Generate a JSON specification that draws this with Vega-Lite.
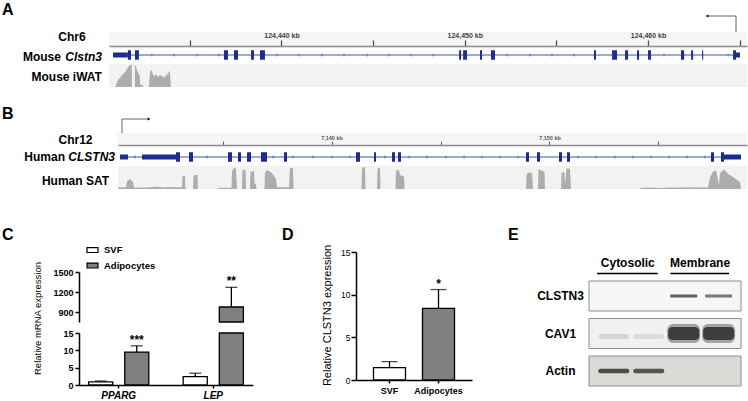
{
"$schema": "https://vega.github.io/schema/vega-lite/v6.json",
"padding": 0,
"autosize": {"type": "pad"},
"background": "white",
"config": {
  "view": {"stroke": null},
  "font": "Liberation Sans",
  "axis": {"domainColor": "black", "tickColor": "black", "domainWidth": 1.5, "tickWidth": 1.5, "tickSize": 4, "labelColor": "black", "titleColor": "black", "grid": false, "labelFontSize": 9, "labelFontWeight": "bold", "labelPadding": 2, "titleFontWeight": "normal"}
},
"datasets": {
  "genes": [
    {"species": "mouse", "start": 124430.81, "end": 124465.02, "tss": 124464.80, "arrowTip": 124463.22},
    {"species": "human", "start": 7130.298, "end": 7158.784, "tss": 7130.390, "arrowTip": 7131.628}
  ],
  "mouseExons": [
    {"start": 124430.81, "end": 124431.62, "feature": "UTR"},
    {"start": 124431.62, "end": 124431.79, "feature": "CDS"},
    {"start": 124432.01, "end": 124432.22, "feature": "CDS"},
    {"start": 124436.86, "end": 124437.08, "feature": "CDS"},
    {"start": 124437.41, "end": 124437.63, "feature": "CDS"},
    {"start": 124438.34, "end": 124438.50, "feature": "CDS"},
    {"start": 124438.83, "end": 124439.10, "feature": "CDS"},
    {"start": 124449.69, "end": 124449.80, "feature": "CDS"},
    {"start": 124449.91, "end": 124450.12, "feature": "CDS"},
    {"start": 124450.83, "end": 124450.94, "feature": "CDS"},
    {"start": 124451.43, "end": 124451.65, "feature": "CDS"},
    {"start": 124457.05, "end": 124457.16, "feature": "CDS"},
    {"start": 124458.04, "end": 124458.31, "feature": "CDS"},
    {"start": 124458.75, "end": 124458.91, "feature": "CDS"},
    {"start": 124459.40, "end": 124459.51, "feature": "CDS"},
    {"start": 124460.00, "end": 124460.16, "feature": "CDS"},
    {"start": 124461.80, "end": 124461.97, "feature": "CDS"},
    {"start": 124462.35, "end": 124462.46, "feature": "CDS"},
    {"start": 124462.95, "end": 124463.01, "feature": "CDS"},
    {"start": 124464.64, "end": 124464.80, "feature": "CDS"},
    {"start": 124464.80, "end": 124465.02, "feature": "UTR"}
  ],
  "mouseChevrons": [
    {"pos": 124432.93}, {"pos": 124434.13}, {"pos": 124435.39}, {"pos": 124436.59}, {"pos": 124439.75}, {"pos": 124440.96},
    {"pos": 124442.21}, {"pos": 124443.41}, {"pos": 124444.67}, {"pos": 124445.87}, {"pos": 124447.07}, {"pos": 124448.27},
    {"pos": 124452.31}, {"pos": 124453.56}, {"pos": 124454.76}, {"pos": 124455.96}, {"pos": 124460.87}, {"pos": 124464.37}
  ],
  "mouseCov": [
    {"pos": 124430.914, "cov": 0}, {"pos": 124430.969, "cov": 0.09}, {"pos": 124431.078, "cov": 0.3}, {"pos": 124431.187, "cov": 0.39},
    {"pos": 124431.296, "cov": 0.52}, {"pos": 124431.405, "cov": 0.6}, {"pos": 124431.514, "cov": 0.7}, {"pos": 124431.623, "cov": 0.87},
    {"pos": 124431.678, "cov": 0.91}, {"pos": 124431.760, "cov": 0.96}, {"pos": 124431.831, "cov": 0.98}, {"pos": 124431.842, "cov": 0},
    {"pos": 124432.000, "cov": 0}, {"pos": 124432.005, "cov": 0.96}, {"pos": 124432.060, "cov": 0.9}, {"pos": 124432.115, "cov": 0.74},
    {"pos": 124432.224, "cov": 0.57}, {"pos": 124432.278, "cov": 0.45}, {"pos": 124432.283, "cov": 0.1}, {"pos": 124432.442, "cov": 0.08},
    {"pos": 124432.447, "cov": 0}, {"pos": 124432.770, "cov": 0}, {"pos": 124432.824, "cov": 0.6}, {"pos": 124432.879, "cov": 0.74},
    {"pos": 124432.933, "cov": 0.7}, {"pos": 124432.988, "cov": 0.52}, {"pos": 124433.097, "cov": 0.48}, {"pos": 124433.151, "cov": 0.57},
    {"pos": 124433.260, "cov": 0.43}, {"pos": 124433.370, "cov": 0.52}, {"pos": 124433.479, "cov": 0.48}, {"pos": 124433.588, "cov": 0.39},
    {"pos": 124433.643, "cov": 0.52}, {"pos": 124433.697, "cov": 0.43}, {"pos": 124433.752, "cov": 0.61}, {"pos": 124433.806, "cov": 0.52},
    {"pos": 124433.861, "cov": 0.7}, {"pos": 124433.915, "cov": 0.65}, {"pos": 124433.970, "cov": 0}
  ],
  "humanExons": [
    {"start": 7130.298, "end": 7130.665, "feature": "UTR"},
    {"start": 7131.307, "end": 7132.867, "feature": "UTR"},
    {"start": 7132.867, "end": 7133.050, "feature": "CDS"},
    {"start": 7133.463, "end": 7133.647, "feature": "CDS"},
    {"start": 7135.252, "end": 7135.436, "feature": "CDS"},
    {"start": 7135.711, "end": 7135.849, "feature": "CDS"},
    {"start": 7136.124, "end": 7136.307, "feature": "CDS"},
    {"start": 7136.766, "end": 7137.041, "feature": "CDS"},
    {"start": 7137.821, "end": 7137.959, "feature": "CDS"},
    {"start": 7141.124, "end": 7141.307, "feature": "CDS"},
    {"start": 7141.950, "end": 7142.040, "feature": "CDS"},
    {"start": 7142.775, "end": 7142.913, "feature": "CDS"},
    {"start": 7143.050, "end": 7143.188, "feature": "CDS"},
    {"start": 7148.922, "end": 7149.060, "feature": "CDS"},
    {"start": 7149.427, "end": 7149.564, "feature": "CDS"},
    {"start": 7150.436, "end": 7150.573, "feature": "CDS"},
    {"start": 7150.803, "end": 7150.940, "feature": "CDS"},
    {"start": 7157.408, "end": 7157.546, "feature": "CDS"},
    {"start": 7157.867, "end": 7158.005, "feature": "CDS"},
    {"start": 7158.005, "end": 7158.784, "feature": "UTR"}
  ],
  "humanChevrons": [
    {"pos": 7130.99}, {"pos": 7134.29}, {"pos": 7137.32}, {"pos": 7138.23}, {"pos": 7139.15}, {"pos": 7140.02}, {"pos": 7140.85},
    {"pos": 7142.45}, {"pos": 7143.56}, {"pos": 7144.38}, {"pos": 7145.25}, {"pos": 7146.08}, {"pos": 7146.90}, {"pos": 7147.73},
    {"pos": 7148.56}, {"pos": 7151.31}, {"pos": 7152.13}, {"pos": 7153.00}, {"pos": 7153.83}, {"pos": 7154.66}, {"pos": 7155.48},
    {"pos": 7156.31}, {"pos": 7157.13}
  ],
  "humanCov": [
    {"pos": 7130.206, "cov": 0}, {"pos": 7130.229, "cov": 0.06}, {"pos": 7130.573, "cov": 0.08}, {"pos": 7130.619, "cov": 0.35},
    {"pos": 7130.757, "cov": 0.43}, {"pos": 7130.894, "cov": 0.3}, {"pos": 7130.940, "cov": 0.07}, {"pos": 7131.445, "cov": 0.06},
    {"pos": 7131.674, "cov": 0.08}, {"pos": 7131.995, "cov": 0.1}, {"pos": 7132.271, "cov": 0.07}, {"pos": 7132.500, "cov": 0.09},
    {"pos": 7132.867, "cov": 0.08}, {"pos": 7133.142, "cov": 0.08}, {"pos": 7133.165, "cov": 0.57}, {"pos": 7133.280, "cov": 0.57},
    {"pos": 7133.303, "cov": 0}, {"pos": 7133.647, "cov": 0}, {"pos": 7133.670, "cov": 0.55}, {"pos": 7133.739, "cov": 0.62},
    {"pos": 7133.853, "cov": 0.6}, {"pos": 7133.876, "cov": 0}, {"pos": 7134.794, "cov": 0}, {"pos": 7134.817, "cov": 0.05},
    {"pos": 7135.298, "cov": 0.05}, {"pos": 7135.413, "cov": 0.05}, {"pos": 7135.436, "cov": 0.75}, {"pos": 7135.528, "cov": 0.93},
    {"pos": 7135.619, "cov": 0.88}, {"pos": 7135.665, "cov": 0}, {"pos": 7135.894, "cov": 0}, {"pos": 7135.917, "cov": 0.8},
    {"pos": 7136.055, "cov": 0.85}, {"pos": 7136.078, "cov": 0}, {"pos": 7136.261, "cov": 0}, {"pos": 7136.284, "cov": 0.75},
    {"pos": 7136.445, "cov": 0.78}, {"pos": 7136.468, "cov": 0.25}, {"pos": 7136.537, "cov": 0.2}, {"pos": 7136.560, "cov": 0},
    {"pos": 7136.927, "cov": 0}, {"pos": 7136.950, "cov": 0.75}, {"pos": 7137.087, "cov": 0.82}, {"pos": 7137.271, "cov": 0.7},
    {"pos": 7137.454, "cov": 0.45}, {"pos": 7137.500, "cov": 0.08}, {"pos": 7138.050, "cov": 0.08}, {"pos": 7138.096, "cov": 0.9},
    {"pos": 7138.234, "cov": 0.92}, {"pos": 7138.257, "cov": 0}, {"pos": 7141.376, "cov": 0}, {"pos": 7141.399, "cov": 0.93},
    {"pos": 7141.537, "cov": 0.95}, {"pos": 7141.560, "cov": 0}, {"pos": 7142.087, "cov": 0}, {"pos": 7142.110, "cov": 0.9},
    {"pos": 7142.225, "cov": 0.9}, {"pos": 7142.248, "cov": 0}, {"pos": 7142.936, "cov": 0}, {"pos": 7142.959, "cov": 0.82},
    {"pos": 7143.096, "cov": 0.82}, {"pos": 7143.142, "cov": 0.6}, {"pos": 7143.326, "cov": 0.55}, {"pos": 7143.349, "cov": 0},
    {"pos": 7148.922, "cov": 0}, {"pos": 7148.945, "cov": 0.6}, {"pos": 7149.014, "cov": 0.72}, {"pos": 7149.197, "cov": 0.7},
    {"pos": 7149.243, "cov": 0}, {"pos": 7149.472, "cov": 0}, {"pos": 7149.495, "cov": 0.85}, {"pos": 7149.656, "cov": 0.8},
    {"pos": 7149.771, "cov": 0.72}, {"pos": 7149.794, "cov": 0}, {"pos": 7150.528, "cov": 0}, {"pos": 7150.550, "cov": 0.7},
    {"pos": 7150.688, "cov": 0.75}, {"pos": 7150.711, "cov": 0.2}, {"pos": 7150.780, "cov": 0.9}, {"pos": 7150.940, "cov": 0.88},
    {"pos": 7150.986, "cov": 0}, {"pos": 7154.151, "cov": 0}, {"pos": 7154.174, "cov": 0.04}, {"pos": 7154.610, "cov": 0.06},
    {"pos": 7155.069, "cov": 0.04}, {"pos": 7155.528, "cov": 0.07}, {"pos": 7155.986, "cov": 0.06}, {"pos": 7156.445, "cov": 0.08},
    {"pos": 7156.904, "cov": 0.06}, {"pos": 7157.271, "cov": 0.07}, {"pos": 7157.362, "cov": 0.5}, {"pos": 7157.500, "cov": 0.75},
    {"pos": 7157.638, "cov": 0.82}, {"pos": 7157.729, "cov": 0.4}, {"pos": 7157.775, "cov": 0.2}, {"pos": 7157.821, "cov": 0.7},
    {"pos": 7158.005, "cov": 0.85}, {"pos": 7158.188, "cov": 0.65}, {"pos": 7158.372, "cov": 0.55}, {"pos": 7158.555, "cov": 0.42},
    {"pos": 7158.739, "cov": 0.3}, {"pos": 7158.784, "cov": 0}
  ],
  "qpcr": [
    {"gene": "PPARG", "group": "SVF", "mean": 0.9, "upper": 1.15, "sig": ""},
    {"gene": "PPARG", "group": "Adipocytes", "mean": 9.5, "upper": 11.3, "sig": "***"},
    {"gene": "LEP", "group": "SVF", "mean": 2.4, "upper": 3.4, "sig": ""},
    {"gene": "LEP", "group": "Adipocytes", "mean": 975, "upper": 1270, "sig": "**"}
  ],
  "clstn3": [
    {"group": "SVF", "mean": 1.45, "upper": 2.15, "sig": ""},
    {"group": "Adipocytes", "mean": 8.4, "upper": 10.6, "sig": "*"}
  ],
  "blotProteins": [{"protein": "CLSTN3"}, {"protein": "CAV1"}, {"protein": "Actin"}],
  "blot": [
    {"protein": "CLSTN3", "lane": 1, "intensity": 0}, {"protein": "CLSTN3", "lane": 2, "intensity": 0},
    {"protein": "CLSTN3", "lane": 3, "intensity": 0.92}, {"protein": "CLSTN3", "lane": 4, "intensity": 0.74},
    {"protein": "CAV1", "lane": 1, "intensity": 0.14}, {"protein": "CAV1", "lane": 2, "intensity": 0.1},
    {"protein": "CAV1", "lane": 3, "intensity": 1}, {"protein": "CAV1", "lane": 4, "intensity": 1},
    {"protein": "Actin", "lane": 1, "intensity": 1}, {"protein": "Actin", "lane": 2, "intensity": 0.95},
    {"protein": "Actin", "lane": 3, "intensity": 0}, {"protein": "Actin", "lane": 4, "intensity": 0}
  ],
  "blotHeaders": [
    {"fraction": "Cytosolic", "from": 0.52, "to": 2.26, "center": 1.4},
    {"fraction": "Membrane", "from": 2.62, "to": 4.3, "center": 3.47}
  ]
},
"spacing": 0,
"bounds": "flush",
"resolve": {"scale": {"x": "independent", "y": "independent"}},
"vconcat": [
  {
    "width": 748, "height": 32,
    "data": {"name": "genes"},
    "transform": [{"filter": "datum.species == 'mouse'"}],
    "layer": [
      {"mark": {"type": "rule", "color": "#666", "strokeWidth": 1},
       "encoding": {"x": {"field": "tss", "type": "quantitative", "scale": {"domain": [124430.59, 124465.40], "range": [109, 747], "nice": false, "zero": false}, "axis": null},
                    "y": {"datum": 0, "type": "quantitative", "scale": {"domain": [0, 1], "range": [32, 16]}, "axis": null}, "y2": {"datum": 1}}},
      {"mark": {"type": "rule", "color": "#666", "strokeWidth": 1},
       "encoding": {"x": {"field": "tss", "type": "quantitative"}, "x2": {"field": "arrowTip"}, "y": {"datum": 1, "type": "quantitative"}}},
      {"mark": {"type": "point", "shape": "triangle-left", "filled": true, "size": 10, "color": "black", "opacity": 1},
       "encoding": {"x": {"field": "arrowTip", "type": "quantitative"}, "y": {"datum": 1, "type": "quantitative"}}},
      {"mark": {"type": "text", "text": "A", "fontSize": 16, "fontWeight": "bold", "align": "left", "baseline": "alphabetic"},
       "encoding": {"x": {"datum": 124424.748, "type": "quantitative"}, "y": {"datum": 1.0625, "type": "quantitative"}}}
    ]
  },
  {
    "width": 748, "height": 14,
    "layer": [
      {"data": {"values": [{}]}, "mark": {"type": "rect", "color": "#f5f5f5"},
       "encoding": {"x": {"datum": 124430.59, "type": "quantitative", "scale": {"domain": [124430.59, 124465.40], "range": [109, 747], "nice": false, "zero": false},
          "axis": {"orient": "top", "offset": -14, "zindex": 1, "values": [124435, 124440, 124445, 124450, 124455, 124460, 124465], "labelExpr": "datum.value % 10 === 0 ? format(datum.value, ',') + ' kb' : ''",
                   "labelFontSize": 7, "labelFontWeight": "bold", "labelColor": "#444", "tickColor": "#555", "tickSize": 6, "tickWidth": 1.3, "domainColor": "#8a8a8a", "domainWidth": 1.3, "labelPadding": 2, "labelFlush": false, "labelOverlap": false, "title": null}},
                    "x2": {"datum": 124465.40}}},
      {"data": {"values": [{}]}, "mark": {"type": "text", "text": "Chr6", "fontSize": 12, "fontWeight": "bold", "align": "center", "baseline": "middle", "dy": -2},
       "encoding": {"x": {"datum": 124428.57, "type": "quantitative"}}}
    ]
  },
  {
    "width": 748, "height": 18,
    "layer": [
      {"data": {"name": "genes"}, "transform": [{"filter": "datum.species == 'mouse'"}],
       "mark": {"type": "rule", "color": "#3c50b4", "strokeWidth": 1},
       "encoding": {"x": {"field": "start", "type": "quantitative", "scale": {"domain": [124430.59, 124465.40], "range": [109, 747], "nice": false, "zero": false}, "axis": null},
                    "x2": {"field": "end"}, "y": {"datum": "Clstn3", "type": "nominal", "axis": null}}},
      {"data": {"name": "mouseChevrons"}, "mark": {"type": "tick", "color": "#3c50b4", "thickness": 1, "size": 3},
       "encoding": {"x": {"field": "pos", "type": "quantitative"}, "y": {"datum": "Clstn3", "type": "nominal"}}},
      {"data": {"name": "mouseExons"}, "mark": {"type": "bar", "color": "#1c2d8f"},
       "encoding": {"x": {"field": "start", "type": "quantitative"}, "x2": {"field": "end"}, "y": {"datum": "Clstn3", "type": "nominal"},
                    "size": {"field": "feature", "type": "nominal", "scale": {"domain": ["UTR", "CDS"], "range": [5, 9.5]}, "legend": null}}},
      {"data": {"values": [{}]}, "mark": {"type": "text", "text": "Mouse", "fontSize": 12, "fontWeight": "bold", "align": "right", "baseline": "middle", "dy": 2},
       "encoding": {"x": {"datum": 124427.967, "type": "quantitative"}, "y": {"datum": "Clstn3", "type": "nominal"}}},
      {"data": {"values": [{}]}, "mark": {"type": "text", "text": "Clstn3", "fontSize": 12, "fontWeight": "bold", "fontStyle": "italic", "align": "right", "baseline": "middle", "dy": 2},
       "encoding": {"x": {"datum": 124430.205, "type": "quantitative"}, "y": {"datum": "Clstn3", "type": "nominal"}}}
    ]
  },
  {
    "width": 748, "height": 36,
    "layer": [
      {"data": {"values": [{}]}, "mark": {"type": "rect", "color": "#f2f2f2"},
       "encoding": {"x": {"datum": 124430.59, "type": "quantitative", "scale": {"domain": [124430.59, 124465.40], "range": [109, 747], "nice": false, "zero": false}, "axis": null},
                    "x2": {"datum": 124465.40},
                    "y": {"datum": 0, "type": "quantitative", "scale": {"domain": [0, 1], "range": [23, 0]}, "axis": null}, "y2": {"datum": 1}}},
      {"data": {"name": "mouseCov"}, "mark": {"type": "area", "color": "#adadad", "interpolate": "linear"},
       "encoding": {"x": {"field": "pos", "type": "quantitative"}, "y": {"field": "cov", "type": "quantitative"}}},
      {"data": {"values": [{}]}, "mark": {"type": "text", "text": "Mouse iWAT", "fontSize": 12, "fontWeight": "bold", "align": "right", "baseline": "middle"},
       "encoding": {"x": {"datum": 124430.205, "type": "quantitative"}, "y": {"datum": 0.435, "type": "quantitative"}}}
    ]
  },
  {
    "width": 748, "height": 33,
    "data": {"name": "genes"},
    "transform": [{"filter": "datum.species == 'human'"}],
    "layer": [
      {"mark": {"type": "rule", "color": "#666", "strokeWidth": 1},
       "encoding": {"x": {"field": "tss", "type": "quantitative", "scale": {"domain": [7130.206, 7159.06], "range": [118, 747], "nice": false, "zero": false}, "axis": null},
                    "y": {"datum": 0, "type": "quantitative", "scale": {"domain": [0, 1], "range": [33, 19]}, "axis": null}, "y2": {"datum": 1}}},
      {"mark": {"type": "rule", "color": "#666", "strokeWidth": 1},
       "encoding": {"x": {"field": "tss", "type": "quantitative"}, "x2": {"field": "arrowTip"}, "y": {"datum": 1, "type": "quantitative"}}},
      {"mark": {"type": "point", "shape": "triangle-right", "filled": true, "size": 10, "color": "black", "opacity": 1},
       "encoding": {"x": {"field": "arrowTip", "type": "quantitative"}, "y": {"datum": 1, "type": "quantitative"}}},
      {"mark": {"type": "text", "text": "B", "fontSize": 16, "fontWeight": "bold", "align": "left", "baseline": "alphabetic"},
       "encoding": {"x": {"datum": 7124.885, "type": "quantitative"}, "y": {"datum": 1.0, "type": "quantitative"}}}
    ]
  },
  {
    "width": 748, "height": 12,
    "layer": [
      {"data": {"values": [{}]}, "mark": {"type": "rect", "color": "#f5f5f5"},
       "encoding": {"x": {"datum": 7130.206, "type": "quantitative", "scale": {"domain": [7130.206, 7159.06], "range": [118, 747], "nice": false, "zero": false},
          "axis": {"orient": "top", "offset": -12, "zindex": 1, "values": [7135, 7140, 7145, 7150, 7155], "labelExpr": "datum.value % 10 === 0 ? format(datum.value, ',') + ' kb' : ''",
                   "labelFontSize": 5.5, "labelFontWeight": "bold", "labelColor": "#555", "tickColor": "#666", "tickSize": 4, "tickWidth": 1.1, "domainColor": "#8a8a8a", "domainWidth": 1.3, "labelPadding": 1, "labelFlush": false, "labelOverlap": false, "title": null}},
                    "x2": {"datum": 7159.06}}},
      {"data": {"values": [{}]}, "mark": {"type": "text", "text": "Chr12", "fontSize": 12, "fontWeight": "bold", "align": "center", "baseline": "middle", "dy": 1},
       "encoding": {"x": {"datum": 7128.257, "type": "quantitative"}}}
    ]
  },
  {
    "width": 748, "height": 21,
    "layer": [
      {"data": {"name": "genes"}, "transform": [{"filter": "datum.species == 'human'"}],
       "mark": {"type": "rule", "color": "#3c50b4", "strokeWidth": 1},
       "encoding": {"x": {"field": "start", "type": "quantitative", "scale": {"domain": [7130.206, 7159.06], "range": [118, 747], "nice": false, "zero": false}, "axis": null},
                    "x2": {"field": "end"}, "y": {"datum": "CLSTN3", "type": "nominal", "scale": {"range": [0, 24]}, "axis": null}}},
      {"data": {"name": "humanChevrons"}, "mark": {"type": "tick", "color": "#3c50b4", "thickness": 1, "size": 3},
       "encoding": {"x": {"field": "pos", "type": "quantitative"}, "y": {"datum": "CLSTN3", "type": "nominal"}}},
      {"data": {"name": "humanExons"}, "mark": {"type": "bar", "color": "#1c2d8f"},
       "encoding": {"x": {"field": "start", "type": "quantitative"}, "x2": {"field": "end"}, "y": {"datum": "CLSTN3", "type": "nominal"},
                    "size": {"field": "feature", "type": "nominal", "scale": {"domain": ["UTR", "CDS"], "range": [5, 9.5]}, "legend": null}}},
      {"data": {"values": [{}]}, "mark": {"type": "text", "text": "Human", "fontSize": 12, "fontWeight": "bold", "align": "right", "baseline": "middle"},
       "encoding": {"x": {"datum": 7127.775, "type": "quantitative"}, "y": {"datum": "CLSTN3", "type": "nominal"}}},
      {"data": {"values": [{}]}, "mark": {"type": "text", "text": "CLSTN3", "fontSize": 12, "fontWeight": "bold", "fontStyle": "italic", "align": "right", "baseline": "middle"},
       "encoding": {"x": {"datum": 7130.069, "type": "quantitative"}, "y": {"datum": "CLSTN3", "type": "nominal"}}}
    ]
  },
  {
    "width": 748, "height": 34,
    "layer": [
      {"data": {"values": [{}]}, "mark": {"type": "rect", "color": "#f2f2f2"},
       "encoding": {"x": {"datum": 7130.206, "type": "quantitative", "scale": {"domain": [7130.206, 7159.06], "range": [118, 747], "nice": false, "zero": false}, "axis": null},
                    "x2": {"datum": 7159.06},
                    "y": {"datum": 0, "type": "quantitative", "scale": {"domain": [0, 1], "range": [23, 0]}, "axis": null}, "y2": {"datum": 1}}},
      {"data": {"name": "humanCov"}, "mark": {"type": "area", "color": "#adadad", "interpolate": "linear"},
       "encoding": {"x": {"field": "pos", "type": "quantitative"}, "y": {"field": "cov", "type": "quantitative"}}},
      {"data": {"values": [{}]}, "mark": {"type": "text", "text": "Human SAT", "fontSize": 12, "fontWeight": "bold", "align": "right", "baseline": "middle"},
       "encoding": {"x": {"datum": 7129.794, "type": "quantitative"}, "y": {"datum": 0.35, "type": "quantitative"}}},
      {"data": {"values": [{}]}, "mark": {"type": "text", "text": "C", "fontSize": 16, "fontWeight": "bold", "align": "left", "baseline": "alphabetic"},
       "encoding": {"x": {"datum": 7124.885, "type": "quantitative"}, "y": {"datum": -2.217, "type": "quantitative"}}},
      {"data": {"values": [{}]}, "mark": {"type": "text", "text": "D", "fontSize": 16, "fontWeight": "bold", "align": "left", "baseline": "alphabetic"},
       "encoding": {"x": {"datum": 7137.729, "type": "quantitative"}, "y": {"datum": -2.217, "type": "quantitative"}}},
      {"data": {"values": [{}]}, "mark": {"type": "text", "text": "E", "fontSize": 16, "fontWeight": "bold", "align": "left", "baseline": "alphabetic"},
       "encoding": {"x": {"datum": 7148.096, "type": "quantitative"}, "y": {"datum": -2.217, "type": "quantitative"}}}
    ]
  },
  {
    "spacing": 0,
    "bounds": "flush",
    "resolve": {"scale": {"x": "independent", "y": "independent", "fill": "independent"}},
    "hconcat": [
      {
        "width": 260, "height": 185,
        "data": {"name": "qpcr"},
        "encoding": {
          "x": {"field": "gene", "type": "nominal", "sort": ["PPARG", "LEP"], "scale": {"range": [79, 253], "paddingInner": 0.3, "paddingOuter": 0.07},
                "axis": {"orient": "bottom", "title": null, "labelAngle": 0, "labelFontStyle": "italic", "labelFontWeight": "bold", "labelFontSize": 10, "tickSize": 3, "labelPadding": 2}},
          "xOffset": {"field": "group", "type": "nominal", "sort": ["SVF", "Adipocytes"], "scale": {"paddingInner": 0.333, "paddingOuter": 0.083}}
        },
        "resolve": {"scale": {"y": "independent"}},
        "layer": [
          {"transform": [{"filter": "datum.mean > 750"}],
           "mark": {"type": "bar", "stroke": "black", "strokeWidth": 1.3},
           "encoding": {
             "y": {"field": "mean", "type": "quantitative", "scale": {"domain": [750, 1500], "range": [122, 72], "nice": false, "zero": false},
                   "axis": {"orient": "left", "offset": -79, "values": [900, 1200, 1500], "format": "d", "title": "Relative mRNA expression", "titleX": -42, "titleY": 118, "titleAngle": 270, "titleAlign": "center", "titleBaseline": "middle", "titleFontSize": 9.5}},
             "y2": {"datum": 750},
             "fill": {"field": "group", "type": "nominal", "sort": ["SVF", "Adipocytes"], "scale": {"domain": ["SVF", "Adipocytes"], "range": ["#ffffff", "#808080"]},
                      "legend": {"orient": "none", "legendX": 86, "legendY": 43.5, "title": null, "symbolType": "M-1,-0.45H1V0.45H-1Z", "symbolSize": 121, "symbolStrokeColor": "black", "symbolStrokeWidth": 1.2, "labelFontSize": 9.5, "labelFontWeight": "bold", "rowPadding": 3.5, "padding": 0, "labelOffset": 5}}
           }},
          {"transform": [{"filter": "datum.mean > 750"}],
           "mark": {"type": "rule", "strokeWidth": 1.3, "color": "black"},
           "encoding": {"y": {"field": "mean", "type": "quantitative", "scale": {"domain": [750, 1500], "range": [122, 72], "nice": false, "zero": false}, "axis": null}, "y2": {"field": "upper"}}},
          {"transform": [{"filter": "datum.mean > 750"}],
           "mark": {"type": "tick", "orient": "horizontal", "thickness": 1.3, "size": 12, "color": "black"},
           "encoding": {"y": {"field": "upper", "type": "quantitative", "scale": {"domain": [750, 1500], "range": [122, 72], "nice": false, "zero": false}, "axis": null}}},
          {"transform": [{"filter": "datum.mean > 750"}],
           "mark": {"type": "text", "dy": -2, "fontSize": 12, "fontWeight": "bold", "baseline": "alphabetic"},
           "encoding": {"y": {"field": "upper", "type": "quantitative", "scale": {"domain": [750, 1500], "range": [122, 72], "nice": false, "zero": false}, "axis": null}, "text": {"field": "sig"}}},
          {"mark": {"type": "bar", "stroke": "black", "strokeWidth": 1.3},
           "encoding": {
             "y": {"field": "mean", "type": "quantitative", "scale": {"domain": [0, 15], "range": [185, 133], "nice": false, "clamp": true},
                   "axis": {"orient": "left", "offset": -79, "values": [0, 5, 10, 15], "title": null}},
             "fill": {"field": "group", "type": "nominal", "sort": ["SVF", "Adipocytes"]}
           }},
          {"transform": [{"filter": "datum.upper <= 15"}],
           "mark": {"type": "rule", "strokeWidth": 1.3, "color": "black"},
           "encoding": {"y": {"field": "mean", "type": "quantitative", "scale": {"domain": [0, 15], "range": [185, 133], "nice": false}, "axis": null}, "y2": {"field": "upper"}}},
          {"transform": [{"filter": "datum.upper <= 15"}],
           "mark": {"type": "tick", "orient": "horizontal", "thickness": 1.3, "size": 12, "color": "black"},
           "encoding": {"y": {"field": "upper", "type": "quantitative", "scale": {"domain": [0, 15], "range": [185, 133], "nice": false}, "axis": null}}},
          {"transform": [{"filter": "datum.upper <= 15"}],
           "mark": {"type": "text", "dy": -2, "fontSize": 12, "fontWeight": "bold", "baseline": "alphabetic"},
           "encoding": {"y": {"field": "upper", "type": "quantitative", "scale": {"domain": [0, 15], "range": [185, 133], "nice": false}, "axis": null}, "text": {"field": "sig"}}}
        ]
      },
      {
        "width": 180, "height": 180,
        "data": {"name": "clstn3"},
        "encoding": {
          "x": {"field": "group", "type": "nominal", "sort": ["SVF", "Adipocytes"], "scale": {"range": [96, 212], "paddingInner": 0.347, "paddingOuter": 0.357},
                "axis": {"orient": "bottom", "title": null, "labelAngle": 0, "labelFontWeight": "bold", "labelFontSize": 9, "tickSize": 3, "labelPadding": 3}}
        },
        "layer": [
          {"mark": {"type": "bar", "stroke": "black", "strokeWidth": 1.3},
           "encoding": {
             "y": {"field": "mean", "type": "quantitative", "scale": {"domain": [0, 15], "range": [180, 52], "nice": false},
                   "axis": {"orient": "left", "offset": -96, "values": [0, 5, 10, 15], "labelFontWeight": "normal", "labelFontSize": 8.5, "tickSize": 5, "labelPadding": 1,
                            "title": "Relative CLSTN3 expression", "titleX": -29, "titleY": 115, "titleAngle": 270, "titleAlign": "center", "titleBaseline": "middle", "titleFontSize": 11}},
             "fill": {"field": "group", "type": "nominal", "scale": {"domain": ["SVF", "Adipocytes"], "range": ["#ffffff", "#808080"]}, "legend": null}
           }},
          {"mark": {"type": "rule", "strokeWidth": 1.3, "color": "black"},
           "encoding": {"y": {"field": "mean", "type": "quantitative"}, "y2": {"field": "upper"}}},
          {"mark": {"type": "tick", "orient": "horizontal", "thickness": 1.3, "size": 16, "color": "black"},
           "encoding": {"y": {"field": "upper", "type": "quantitative"}}},
          {"mark": {"type": "text", "dy": -2, "fontSize": 12, "fontWeight": "bold", "baseline": "alphabetic"},
           "encoding": {"y": {"field": "upper", "type": "quantitative"}, "text": {"field": "sig"}}}
        ]
      },
      {
        "width": 308, "height": 186,
        "layer": [
          {"data": {"name": "blotProteins"}, "mark": {"type": "rect", "stroke": "#8c8c8c", "strokeWidth": 1},
           "encoding": {
             "x": {"datum": 0.29, "type": "quantitative", "scale": {"domain": [0.29, 4.64], "range": [149, 301], "nice": false, "zero": false}, "axis": null},
             "x2": {"datum": 4.64},
             "y": {"field": "protein", "type": "nominal", "scale": {"domain": ["header", "CLSTN3", "CAV1", "Actin"], "range": [43.5, 186], "paddingInner": 0.2, "paddingOuter": 0},
                   "axis": {"orient": "left", "offset": -149, "domain": false, "ticks": false, "tickSize": 0, "labelAlign": "center", "labelPadding": 29, "labelFontSize": 12, "labelFontWeight": "bold", "labelExpr": "datum.value == 'header' ? '' : datum.value", "title": null}},
             "fill": {"field": "protein", "type": "nominal", "scale": {"domain": ["CLSTN3", "CAV1", "Actin"], "range": ["#f6f6f6", "#f1f1f1", "#dcdad6"]}, "legend": null}
           }},
          {"data": {"name": "blot"}, "transform": [{"filter": "datum.protein == 'CLSTN3' && datum.intensity > 0.05"}],
           "mark": {"type": "tick", "orient": "horizontal", "thickness": 3, "size": 27, "cornerRadius": 1},
           "encoding": {"x": {"field": "lane", "type": "quantitative"}, "y": {"field": "protein", "type": "nominal"},
                        "color": {"field": "intensity", "type": "quantitative", "scale": {"domain": [0, 1], "range": ["#ececec", "#111111"]}, "legend": null}}},
          {"data": {"name": "blot"}, "transform": [{"filter": "datum.protein == 'CAV1' && datum.intensity > 0.5"}],
           "mark": {"type": "tick", "orient": "horizontal", "thickness": 19, "size": 33, "opacity": 0.35, "cornerRadius": 6},
           "encoding": {"x": {"field": "lane", "type": "quantitative"}, "y": {"field": "protein", "type": "nominal"},
                        "color": {"field": "intensity", "type": "quantitative"}}},
          {"data": {"name": "blot"}, "transform": [{"filter": "datum.protein == 'CAV1' && datum.intensity > 0.5"}],
           "mark": {"type": "tick", "orient": "horizontal", "thickness": 13, "size": 31, "cornerRadius": 4},
           "encoding": {"x": {"field": "lane", "type": "quantitative"}, "y": {"field": "protein", "type": "nominal"},
                        "color": {"field": "intensity", "type": "quantitative"}}},
          {"data": {"name": "blot"}, "transform": [{"filter": "datum.protein == 'CAV1' && datum.intensity > 0.05 && datum.intensity <= 0.5"}],
           "mark": {"type": "tick", "orient": "horizontal", "thickness": 5, "size": 30, "cornerRadius": 2, "yOffset": 3},
           "encoding": {"x": {"field": "lane", "type": "quantitative"}, "y": {"field": "protein", "type": "nominal"},
                        "color": {"field": "intensity", "type": "quantitative"}}},
          {"data": {"name": "blot"}, "transform": [{"filter": "datum.protein == 'Actin' && datum.intensity > 0.05"}],
           "mark": {"type": "tick", "orient": "horizontal", "thickness": 4.5, "size": 31, "cornerRadius": 2},
           "encoding": {"x": {"field": "lane", "type": "quantitative"}, "y": {"field": "protein", "type": "nominal"},
                        "color": {"field": "intensity", "type": "quantitative"}}},
          {"data": {"name": "blotHeaders"}, "mark": {"type": "text", "fontSize": 12, "fontWeight": "bold", "baseline": "middle", "dy": 4.5},
           "encoding": {"x": {"field": "center", "type": "quantitative"}, "y": {"datum": "header", "type": "nominal"}, "text": {"field": "fraction"}}},
          {"data": {"name": "blotHeaders"}, "mark": {"type": "rule", "strokeWidth": 1.3, "color": "black", "yOffset": 15},
           "encoding": {"x": {"field": "from", "type": "quantitative"}, "x2": {"field": "to"}, "y": {"datum": "header", "type": "nominal"}}}
        ]
      }
    ]
  }
]
}
